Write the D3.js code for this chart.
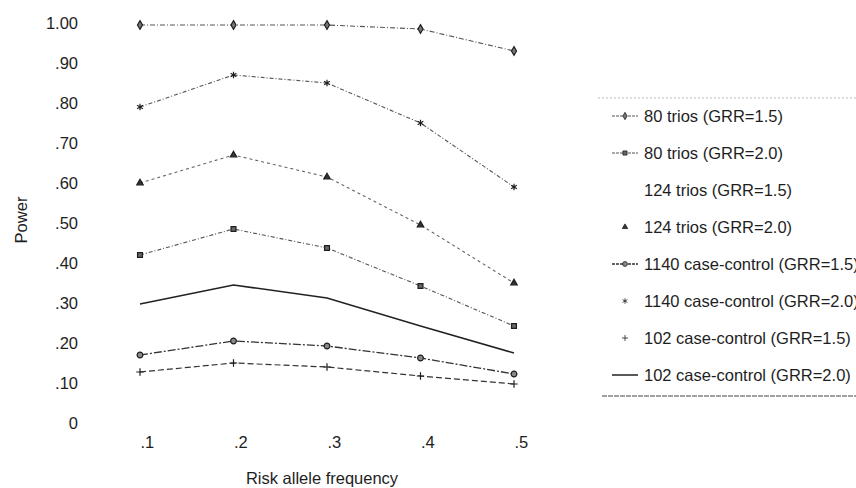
<!DOCTYPE html>
<html lang="en">
<head>
    <meta charset="utf-8">
    <title>Power by risk allele frequency</title>
    <script src="https://d3js.org/d3.v7.min.js"></script>
    <style>
        body {
            margin: 0;
            background: #fff;
            font-family: "Liberation Sans", Arial, sans-serif;
        }
        svg {
            display: block;
        }
        .axis text, .legend text, .title {
            font-size: 16.5px;
            fill: #1e1e1e;
        }
    </style>
</head>
<body>
    <svg id="chart" width="856" height="488"></svg>

    <script>
        // Data
        const freqs = [0.1, 0.2, 0.3, 0.4, 0.5];
        const yTicks = [0, 0.1, 0.2, 0.3, 0.4, 0.5, 0.6, 0.7, 0.8, 0.9, 1.0];
        const yTickLabels = ["0", ".10", ".20", ".30", ".40", ".50", ".60", ".70", ".80", ".90", "1.00"];
        const xTickLabels = [".1", ".2", ".3", ".4", ".5"];

        const seriesNames = [
            "80 trios (GRR=1.5)",
            "80 trios (GRR=2.0)",
            "124 trios (GRR=1.5)",
            "124 trios (GRR=2.0)",
            "1140 case-control (GRR=1.5)",
            "1140 case-control (GRR=2.0)",
            "102 case-control (GRR=1.5)",
            "102 case-control (GRR=2.0)"
        ];

        const trios80_15 = [0.995, 0.995, 0.995, 0.985, 0.93];
        const trios80_20 = [0.42, 0.485, 0.4375, 0.3425, 0.2425];
        const trios124_15 = [null, null, null, null, null]; // not visible in the figure
        const trios124_20 = [0.60, 0.67, 0.615, 0.495, 0.35];
        const cc1140_15 = [0.17, 0.205, 0.1925, 0.1625, 0.1225];
        const cc1140_20 = [0.79, 0.87, 0.85, 0.75, 0.59];
        const cc102_15 = [0.1275, 0.15, 0.14, 0.1175, 0.0975];
        const cc102_20 = [0.2975, 0.345, 0.3125, 0.2425, 0.175];

        const seriesValues = [trios80_15, trios80_20, trios124_15, trios124_20,
                              cc1140_15, cc1140_20, cc102_15, cc102_20];

        // Look of each series (plot + legend sample)
        const styles = [
            { dash: "5,2,1,2", stroke: "#555", width: 1.1, symbol: d3.symbolDiamond, size: 22, fill: "#777", legendLine: true, legendSymbol: true },
            { dash: "4,2,1,2", stroke: "#555", width: 1.1, symbol: d3.symbolSquare, size: 24, fill: "#666", legendLine: true, legendSymbol: true },
            { dash: null, stroke: "none", width: 0, symbol: null, legendLine: false, legendSymbol: false },
            { dash: "3,3", stroke: "#666", width: 1.1, symbol: d3.symbolTriangle, size: 18, fill: "#333", legendLine: false, legendSymbol: true },
            { dash: "8,2,2,2", stroke: "#333", width: 1.3, symbol: d3.symbolCircle, size: 26, fill: "#888", legendLine: true, legendSymbol: true },
            { dash: "4,2,1,2", stroke: "#555", width: 1.1, symbol: d3.symbolAsterisk, size: 30, fill: "#333", legendLine: false, legendSymbol: true },
            { dash: "6,3", stroke: "#333", width: 1.2, symbol: d3.symbolPlus, size: 20, fill: "#333", legendLine: false, legendSymbol: true },
            { dash: null, stroke: "#222", width: 1.5, symbol: null, legendLine: true, legendSymbol: false }
        ];

        const svg = d3.select("#chart");

        const x = d3.scaleLinear().domain([0.1, 0.5]).range([140, 514]);
        const y = d3.scaleLinear().domain([0, 1]).range([423, 23]);

        // Y axis: labels only, no line or ticks
        const yAxis = d3.axisLeft(y)
            .tickValues(yTicks)
            .tickSize(0)
            .tickPadding(0)
            .tickFormat((d, i) => yTickLabels[i]);
        const yG = svg.append("g")
            .attr("class", "axis")
            .attr("transform", "translate(78,0)")
            .call(yAxis);
        yG.select(".domain").remove();
        yG.selectAll("text").attr("font-family", null).attr("font-size", null).attr("dy", "0.35em");

        // X axis: labels start at the data position
        const xAxis = d3.axisBottom(x)
            .tickValues(freqs)
            .tickSize(0)
            .tickPadding(0)
            .tickFormat((d, i) => xTickLabels[i]);
        const xG = svg.append("g")
            .attr("class", "axis")
            .attr("transform", "translate(0,436)")
            .call(xAxis);
        xG.select(".domain").remove();
        xG.selectAll("text")
            .attr("font-family", null).attr("font-size", null)
            .attr("text-anchor", "start")
            .attr("dy", "0.7em");

        // Axis titles
        svg.append("text")
            .attr("class", "title")
            .attr("x", 322)
            .attr("y", 484)
            .attr("text-anchor", "middle")
            .text("Risk allele frequency");

        svg.append("text")
            .attr("class", "title")
            .attr("transform", "translate(27,220) rotate(-90)")
            .attr("text-anchor", "middle")
            .text("Power");

        // Lines and markers
        const line = d3.line()
            .defined(d => d.v !== null)
            .x(d => x(d.f))
            .y(d => y(d.v));

        seriesNames.forEach((name, i) => {
            const pts = freqs.map((f, j) => ({ f: f, v: seriesValues[i][j] }));
            const st = styles[i];
            if (pts.every(p => p.v === null)) return;

            svg.append("path")
                .datum(pts)
                .attr("fill", "none")
                .attr("stroke", st.stroke)
                .attr("stroke-width", st.width)
                .attr("stroke-dasharray", st.dash)
                .attr("d", line);

            if (st.symbol) {
                svg.selectAll(null)
                    .data(pts.filter(p => p.v !== null))
                    .enter().append("path")
                    .attr("transform", d => `translate(${x(d.f)},${y(d.v)})`)
                    .attr("d", d3.symbol().type(st.symbol).size(st.size))
                    .attr("fill", st.fill)
                    .attr("stroke", "#1e1e1e")
                    .attr("stroke-width", 1.2);
            }
        });

        // Legend
        const legendY = d3.scalePoint().domain(seriesNames).range([116, 375]);
        const legend = svg.append("g").attr("class", "legend");

        legend.append("line")
            .attr("x1", 598).attr("x2", 856)
            .attr("y1", 98).attr("y2", 98)
            .attr("stroke", "#bbb")
            .attr("stroke-dasharray", "2,2");
        legend.append("line")
            .attr("x1", 602).attr("x2", 856)
            .attr("y1", 396).attr("y2", 396)
            .attr("stroke", "#444")
            .attr("stroke-dasharray", "5,1");

        seriesNames.forEach((name, i) => {
            const st = styles[i];
            const ly = legendY(name);
            if (st.legendLine) {
                legend.append("line")
                    .attr("x1", 612).attr("x2", 638)
                    .attr("y1", ly).attr("y2", ly)
                    .attr("stroke", st.stroke)
                    .attr("stroke-width", st.width)
                    .attr("stroke-dasharray", st.dash ? "3,1" : null);
            }
            if (st.legendSymbol) {
                legend.append("path")
                    .attr("transform", `translate(625,${ly})`)
                    .attr("d", d3.symbol().type(st.symbol).size(st.size * 0.7))
                    .attr("fill", st.fill)
                    .attr("stroke", "#1e1e1e")
                    .attr("stroke-width", 0.8);
            }
            legend.append("text")
                .attr("x", 644)
                .attr("y", ly)
                .attr("dy", "0.35em")
                .text(name);
        });
    </script>
</body>
</html>
